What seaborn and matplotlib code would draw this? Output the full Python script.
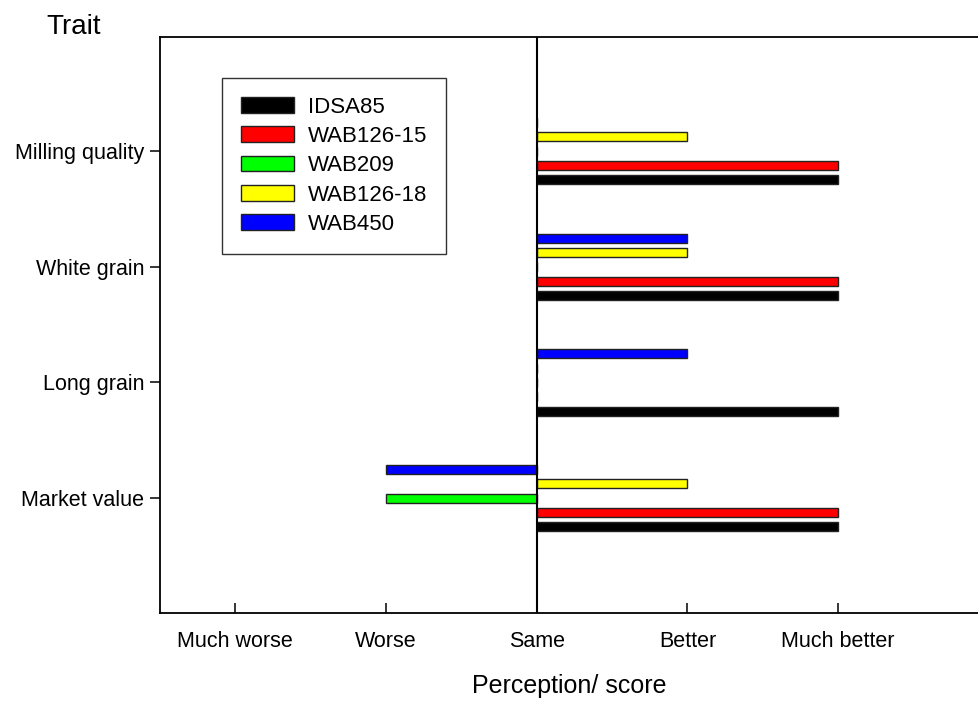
import matplotlib
matplotlib.use("Agg")
import matplotlib.pyplot as plt
import seaborn as sns
import pandas as pd

traits = ["Milling quality", "White grain", "Long grain", "Market value"]
varieties = ["IDSA85", "WAB126-15", "WAB209", "WAB126-18", "WAB450"]
colors = ["#000000", "#FF0000", "#00FF00", "#FFFF00", "#0000FF"]
# scores per variety, in trait order above
idsa85 = [2, 2, 2, 2]
wab126_15 = [2, 2, 0, 2]
wab209 = [0, 0, 0, -1]
wab126_18 = [1, 1, 0, 1]
wab450 = [0, 1, 1, -1]
tick_vals = [-2, -1, 0, 1, 2]
tick_labels = ["Much worse", "Worse", "Same", "Better", "Much better"]

series = [idsa85, wab126_15, wab209, wab126_18, wab450]
rows = []
for v, vals in zip(varieties, series):
    for t, s in zip(traits, vals):
        rows.append({"Trait": t, "Variety": v, "Score": s})
df = pd.DataFrame(rows)

sns.set_style("white")
plt.rcParams["font.family"] = ["Liberation Sans", "DejaVu Sans"]
plt.rcParams["text.color"] = "black"
plt.rcParams["axes.labelcolor"] = "black"
plt.rcParams["xtick.color"] = "black"
plt.rcParams["ytick.color"] = "black"

fig = plt.figure(figsize=(9.79, 7.02), dpi=100)
ax = fig.add_axes([160 / 979, 89 / 702, 1 - 160 / 979, 576 / 702])

hue_order = varieties[::-1]
palette = dict(zip(varieties, colors))
sns.barplot(data=df, x="Score", y="Trait", hue="Variety", order=traits,
            hue_order=hue_order, palette=palette, orient="h", width=0.62,
            gap=0.37, edgecolor="#222222", linewidth=1.0, saturation=1,
            errorbar=None, ax=ax, legend=True)

ax.axvline(0, color="black", lw=1.5, zorder=5)
ax.set_xlim(-2.5, (979 - 537) / 150.6)
ax.set_ylim(3.994, -0.986)
ax.set_xticks(tick_vals)
ax.set_xticklabels(tick_labels, fontsize=15.5)
ax.tick_params(axis="y", labelsize=15.5, direction="out", length=7.5, width=1.1,
               left=True, pad=4, colors="black")
ax.tick_params(axis="x", direction="in", length=7, width=1.1, bottom=True,
               pad=13, colors="black")
for side in ["left", "bottom", "top"]:
    ax.spines[side].set_color("black")
    ax.spines[side].set_linewidth(1.3)
ax.spines["right"].set_visible(False)
ax.set_ylabel("")
ax.set_xlabel("Perception/ score", fontsize=18, labelpad=16, color="black")

handles, labels = ax.get_legend_handles_labels()
hmap = dict(zip(labels, handles))
leg = ax.legend([hmap[v] for v in varieties], varieties, loc="upper left",
                bbox_to_anchor=((222 - 160) / 819, (613 - 78) / 576),
                borderaxespad=0, fontsize=16, frameon=True, fancybox=False,
                edgecolor="black", handlelength=2.4, handleheight=0.72,
                handletextpad=0.62, labelspacing=0.37, borderpad=0.85)
leg.get_frame().set_linewidth(1.0)
for t in leg.get_texts():
    t.set_color("black")

fig.text(74 / 979, 1 - 27 / 702, "Trait", fontsize=20, ha="center", va="center",
         color="black")

fig.savefig("out.png", dpi=100)
